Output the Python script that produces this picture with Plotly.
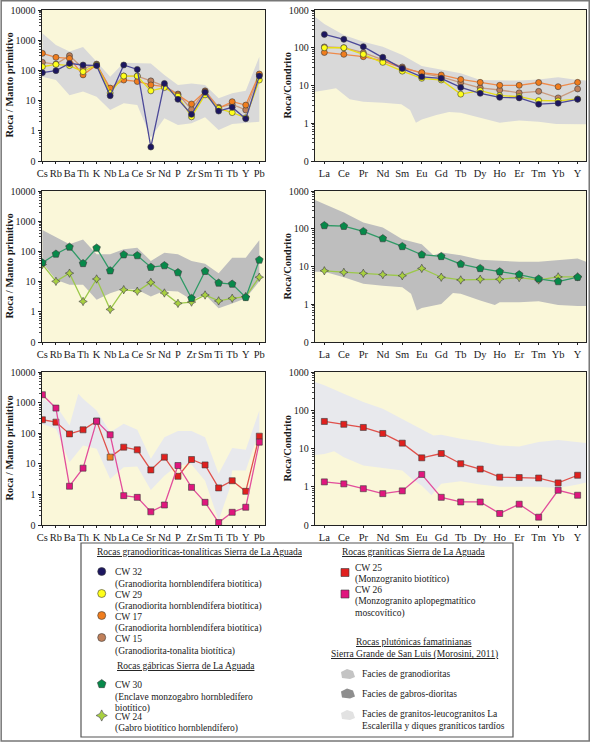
import plotly.graph_objects as go

W, H = 591, 744

# %% Elementos
pm_elems = ["Cs", "Rb", "Ba", "Th", "K", "Nb", "La", "Ce", "Sr", "Nd", "P",
            "Zr", "Sm", "Ti", "Tb", "Y", "Pb"]
ree_elems = ["La", "Ce", "Pr", "Nd", "Sm", "Eu", "Gd", "Tb", "Dy", "Ho", "Er",
             "Tm", "Yb", "Y"]

# %% Rocas granodioriticas-tonaliticas (manto primitivo / condrito)
cw32_pm = [84, 98, 170, 151, 144, 14.5, 151, 108, 0.29, 37, 11, 3.5, 18.9, 4.5, 6, 2.5, 65]
cw29_pm = [132, 158, 144, 91, 151, 18, 65, 65, 21, 27, 14, 2.9, 15.5, 5.5, 4, 2.7, 48]
cw17_pm = [367, 270, 250, 71, 151, 26, 48, 43, 33, 29, 15.5, 7.7, 20, 5.5, 9.2, 7.1, 76]
cw15_pm = [185, 162, 309, 115, 162, 23.6, 65, 65, 45, 30, 16.5, 5.1, 21, 6, 7.5, 4.9, 72]

cw32_ree = [226, 167, 107, 56, 28, 17, 15.5, 8.9, 6.2, 4.85, 4.7, 3.2, 3.4, 4.3]
cw29_ree = [100, 100, 67, 41, 24, 15.5, 14, 5.9, 7.3, 5.4, 5.1, 4.0, 3.9, 4.4]
cw17_ree = [75, 67, 58, 45, 29, 22, 19, 14.5, 12.1, 10.1, 10.1, 12, 9.3, 12.1]
cw15_ree = [105, 100, 74, 47, 31, 21, 17, 11.9, 8.7, 7.6, 6.4, 7.0, 4.7, 8.1]

# %% Rocas gabricas
cw30_pm = [42, 82, 140, 40, 130, 23, 78, 73, 30, 34, 20, 2.8, 22, 9, 8.3, 3.0, 52]
cw24_pm = [37, 10.2, 19, 2.2, 12.2, 1.2, 5.4, 4.8, 9.4, 4.2, 1.9, 2.1, 3.6, 2.3, 2.8, 3.2, 14]

cw30_ree = [122, 117, 85, 55, 34, 20.5, 18.5, 11.6, 8.9, 7.3, 6.1, 4.7, 4.0, 5.2]
cw24_ree = [7.7, 7.0, 6.6, 6.1, 5.7, 8.9, 5.2, 4.4, 4.6, 4.6, 5.1, 4.4, 5.3, 5.3]

# %% Rocas graniticas
cw25_pm = [275, 230, 95, 129, 248, 16.5, 35, 28.6, 6.3, 16.5, 3.9, 13.8, 9.2, 1.63, 2.8, 1.26, 80]
cw26_pm = [1810, 662, 1.85, 7.2, 248, 89, 0.91, 0.8, 0.27, 0.45, 8.8, 1.7, 0.55, 0.12, 0.26, 0.38, 51]

cw25_ree = [51, 43, 35.5, 24.7, 13.8, 5.7, 7.4, 4.0, 2.9, 1.78, 1.74, 1.69, 1.26, 2.0]
cw26_ree = [1.34, 1.19, 0.89, 0.66, 0.78, 2.1, 0.53, 0.4, 0.4, 0.2, 0.35, 0.16, 0.81, 0.6]

# %% Campos Morosini (2011): granodioritas
gd_pm_x = [0, 1, 2, 3, 4, 5, 6, 7, 8, 9, 10, 11, 12, 13, 14, 15, 16]
gd_pm_hi = [1690, 690, 420, 600, 195, 62, 180, 175, 170, 70, 33, 37, 33, 12, 17.4, 21, 285]
gd_pm_lo = [62, 48, 15, 20, 13.5, 4.9, 8.1, 7.2, 0.6, 2.6, 1.55, 1.77, 2.8, 1.06, 1.68, 1.86, 2.0]

gd_ree_hi_x = [-0.48, 0, 1, 2, 3, 4, 5, 6, 7, 8, 9, 10, 11, 12, 13, 13.43]
gd_ree_hi = [666, 425, 218, 145, 107, 64, 33, 26, 21, 14, 14, 13.5, 14.5, 16.5, 14, 13.5]
gd_ree_lo_x = [-0.48, 0.1, 0.6, 1.3, 2, 3, 3.95, 4.4, 4.7, 5, 5.75, 6.4, 7, 7.8, 9, 10, 11, 11.9, 13, 13.43]
gd_ree_lo = [6.85, 7.6, 8.4, 4.3, 3.7, 3.5, 3.2, 2.24, 1.03, 1.26, 1.65, 2.0, 1.9, 1.5, 1.03, 1.18, 1.1, 0.95, 0.94, 0.94]

# %% gabros-dioritas
gb_pm_x = [0, 1, 2, 3, 4, 5, 6, 7, 8, 9, 10, 11, 12, 13, 14, 15, 16]
gb_pm_hi = [507, 288, 173, 250, 80, 80, 117, 133, 48, 91, 80, 48, 39, 19, 62, 62, 235]
gb_pm_lo = [42, 11.6, 7.9, 7.9, 2.5, 4.15, 5.8, 5.4, 3.2, 5.0, 4.7, 2.5, 3.65, 1.3, 1.9, 2.8, 10.2]

gb_ree_hi_x = [-0.48, 0, 1, 2, 3, 4, 5, 5.6, 6, 7, 8, 9, 10, 11, 12, 13, 13.43]
gb_ree_hi = [578, 445, 268, 146, 108, 53, 39, 20, 23.6, 20, 15, 14.2, 13.3, 13.3, 15, 16.3, 13.3]
gb_ree_lo_x = [-0.48, 0, 1, 2, 3, 4, 4.45, 4.75, 5, 6, 6.6, 7, 8, 8.75, 9, 10, 11, 12, 13, 13.43]
gb_ree_lo = [7.3, 7.3, 5.2, 3.5, 3.1, 2.8, 1.9, 0.68, 0.79, 1.02, 2.0, 1.9, 1.26, 0.96, 1.13, 1.13, 1.2, 0.96, 0.9, 0.9]

# %% granitos-leucogranitos La Escalerilla y diques tardios
lg_pm_hi_x = [0, 1, 2, 2.65, 3, 4, 5, 6, 7, 8, 9, 10, 11, 12, 13, 14, 15, 16]
lg_pm_hi = [1340, 810, 179, 1950, 1340, 556, 108, 203, 129, 14.5, 74, 117, 117, 74, 4.7, 33, 29, 556]
lg_pm_lo_x = [0, 1, 2, 3, 4, 5, 6, 7, 8, 9, 10, 11, 12, 13, 13.8, 14, 15, 16]
lg_pm_lo = [200, 139, 11.3, 40, 31, 3.2, 7.7, 8.1, 1.4, 4.1, 9.2, 9.5, 2.8, 0.14, 1.5, 6.0, 6.0, 123]

lg_ree_hi_x = [-0.48, 0, 1, 2, 3, 4, 5, 5.6, 6, 7, 8, 9, 10, 11, 12, 13, 13.43]
lg_ree_hi = [547, 448, 270, 164, 110, 60, 33, 22, 23, 18, 15.2, 12, 11.3, 14.7, 16.7, 14.7, 14]
lg_ree_lo_x = [-0.48, 0, 0.5, 1, 2, 3, 4, 4.5, 5, 5.5, 6, 7, 8, 9, 10, 11, 12, 13, 13.43]
lg_ree_lo = [6.8, 7.2, 8.5, 5.9, 3.6, 3.1, 2.65, 1.6, 1.07, 0.6, 1.2, 1.4, 1.14, 1.0, 1.0, 1.0, 0.93, 1.14, 1.3]

# %% estilos
serif = "Liberation Serif"
bg_yellow = "#faf7d9"
c_gd, c_gb, c_lg = "#d9d9d9", "#bebebe", "#e8e9ed"

sty = {
    "CW32": dict(fill="#1c1660", line="#4b4898", symbol="circle", size=6),
    "CW29": dict(fill="#ffff1a", line="#e6dc14", symbol="circle", size=6),
    "CW17": dict(fill="#f07d1e", line="#ee8a4a", symbol="circle", size=6),
    "CW15": dict(fill="#c0805a", line="#c99a7e", symbol="circle", size=6),
    "CW30": dict(fill="#07894a", line="#2f9a66", symbol="pentagon", size=8),
    "CW24": dict(fill="#a8d040", line="#9cc84a", symbol="star-diamond", size=6),
    "CW25": dict(fill="#e0201e", line="#e0504a", symbol="square", size=6),
    "CW26": dict(fill="#e0167e", line="#e24d9c", symbol="square", size=6),
}

fig = go.Figure()

# dominios en pixeles (x0, x1) y (top, bottom)
cols = [(41.7, 265), (315, 586)]
rows = [(10, 161), (191, 342), (372, 525)]


def ax_id(i):
    return "" if i == 1 else str(i)


def add_band(n, xs_hi, hi, xs_lo, lo, color):
    fig.add_trace(go.Scatter(
        x=list(xs_hi) + list(xs_lo)[::-1], y=list(hi) + list(lo)[::-1],
        fill="toself", fillcolor=color, mode="lines", line=dict(width=0),
        hoverinfo="skip", showlegend=False,
        xaxis="x" + ax_id(n), yaxis="y" + ax_id(n)))


def add_series(n, name, vals, mcolors=None):
    s = sty[name]
    fig.add_trace(go.Scatter(
        x=list(range(len(vals))), y=vals, mode="lines+markers", name=name,
        line=dict(color=s["line"], width=1.3),
        marker=dict(symbol=s["symbol"], size=s["size"],
                    color=mcolors if mcolors else s["fill"],
                    line=dict(color="#3a3a3a", width=0.6)),
        showlegend=False, xaxis="x" + ax_id(n), yaxis="y" + ax_id(n)))


# panel 1 y 2
add_band(1, gd_pm_x, gd_pm_hi, gd_pm_x, gd_pm_lo, c_gd)
for nm, v in [("CW15", cw15_pm), ("CW17", cw17_pm), ("CW29", cw29_pm), ("CW32", cw32_pm)]:
    add_series(1, nm, v)
add_band(2, gd_ree_hi_x, gd_ree_hi, gd_ree_lo_x, gd_ree_lo, c_gd)
for nm, v in [("CW15", cw15_ree), ("CW17", cw17_ree), ("CW29", cw29_ree), ("CW32", cw32_ree)]:
    add_series(2, nm, v)

# panel 3 y 4
add_band(3, gb_pm_x, gb_pm_hi, gb_pm_x, gb_pm_lo, c_gb)
add_series(3, "CW24", cw24_pm)
add_series(3, "CW30", cw30_pm)
add_band(4, gb_ree_hi_x, gb_ree_hi, gb_ree_lo_x, gb_ree_lo, c_gb)
add_series(4, "CW24", cw24_ree)
add_series(4, "CW30", cw30_ree)

# panel 5 y 6
add_band(5, lg_pm_hi_x, lg_pm_hi, lg_pm_lo_x, lg_pm_lo, c_lg)
cw25_cols = [sty["CW25"]["fill"]] * len(cw25_pm)
cw25_cols[5] = "#f07d1e"
add_series(5, "CW25", cw25_pm, cw25_cols)
add_series(5, "CW26", cw26_pm)
add_band(6, lg_ree_hi_x, lg_ree_hi, lg_ree_lo_x, lg_ree_lo, c_lg)
add_series(6, "CW25", cw25_ree)
add_series(6, "CW26", cw26_ree)

layout = dict(
    width=W, height=H, margin=dict(l=0, r=0, t=0, b=0, autoexpand=False),
    paper_bgcolor="white", plot_bgcolor="rgba(0,0,0,0)",
    font=dict(family=serif, size=10, color="#1a1a1a"),
    showlegend=False,
)

shapes = []
annotations = []
n = 0
for r, (top, bot) in enumerate(rows):
    for c, (xl, xr) in enumerate(cols):
        n += 1
        elems = pm_elems if c == 0 else ree_elems
        xrange = [-0.05, 16.42] if c == 0 else [-0.48, 13.43]
        yrange = [-1, 4] if c == 0 else [-1, 3]
        layout["xaxis" + ax_id(n)] = dict(
            domain=[xl / W, xr / W], anchor="y" + ax_id(n), range=xrange,
            tickmode="array", tickvals=list(range(len(elems))), ticktext=elems,
            tickangle=0, automargin=False,
            ticks="outside", ticklen=2, tickcolor="#222",
            showline=True, mirror=True, linecolor="#222", linewidth=1.4,
            showgrid=False, zeroline=False, fixedrange=True,
            tickfont=dict(family=serif, size=10.5, color="#1a1a1a"))
        layout["yaxis" + ax_id(n)] = dict(
            domain=[1 - bot / H, 1 - top / H], anchor="x" + ax_id(n),
            type="log", range=yrange, dtick=1, tickformat="d",
            automargin=False,
            ticks="outside", ticklen=3, tickcolor="#222",
            minor=dict(ticks="outside", ticklen=2, tickcolor="#444", dtick="D1"),
            showline=True, mirror=True, linecolor="#222", linewidth=1.4,
            showgrid=False, zeroline=False, fixedrange=True,
            tickfont=dict(family=serif, size=10, color="#1a1a1a"))
        shapes.append(dict(type="rect", xref="x" + ax_id(n) + " domain",
                           yref="y" + ax_id(n) + " domain", x0=0, x1=1, y0=0, y1=1,
                           fillcolor=bg_yellow, line=dict(width=0), layer="below"))
        annotations.append(dict(
            text="<b>Roca / Manto primitivo</b>" if c == 0 else "<b>Roca/Condrito</b>",
            xref="paper", yref="paper", x=(9 if c == 0 else 287) / W,
            y=1 - (top + bot) / 2 / H, xanchor="center", yanchor="middle",
            textangle=-90, showarrow=False,
            font=dict(family=serif, size=10.5, color="#1a1a1a")))

# %% leyenda (eje en pixeles)
lx0, lx1, ly0, ly1 = 81, 513, 543, 737
layout["xaxis7"] = dict(domain=[lx0 / W, lx1 / W], range=[lx0, lx1], anchor="y7",
                        visible=False, fixedrange=True, automargin=False)
layout["yaxis7"] = dict(domain=[1 - ly1 / H, 1 - ly0 / H], range=[ly1, ly0], anchor="x7",
                        visible=False, fixedrange=True, automargin=False)
shapes.append(dict(type="rect", xref="x7 domain", yref="y7 domain", x0=0, x1=1, y0=0, y1=1,
                   fillcolor="white", line=dict(color="#555", width=1.2), layer="below"))

leg_items = [
    ("CW32", 101.7, 571.5, 8), ("CW29", 101.7, 593.5, 8), ("CW17", 101.7, 615.5, 8),
    ("CW15", 101.7, 637.5, 8), ("CW30", 101.7, 684, 9), ("CW24", 101.7, 715.5, 8),
    ("CW25", 345, 572.5, 8), ("CW26", 345, 594, 8),
]
for nm, px, py, sz in leg_items:
    s = sty[nm]
    fig.add_trace(go.Scatter(
        x=[px], y=[py], mode="markers", showlegend=False, hoverinfo="skip",
        marker=dict(symbol=s["symbol"], size=sz, color=s["fill"],
                    line=dict(color="#3a3a3a", width=0.6)),
        xaxis="x7", yaxis="y7"))

leg_text = [
    (95, 552, "<u>Rocas granodioríticas-tonalíticas Sierra de La Aguada</u>", "left"),
    (340, 552, "<u>Rocas graníticas Sierra de La Aguada</u>", "left"),
    (113, 572, "CW 32", "left"),
    (113, 584, "(Granodiorita hornblendífera biotítica)", "left"),
    (113, 595, "CW 29", "left"),
    (113, 606.5, "(Granodiorita hornblendífera biotítica)", "left"),
    (113, 617, "CW 17", "left"),
    (113, 628.5, "(Granodiorita hornblendífera biotítica)", "left"),
    (113, 639, "CW 15", "left"),
    (113, 651, "(Granodiorita-tonalita biotítica)", "left"),
    (115, 666, "<u>Rocas gábricas Sierra de La Aguada</u>", "left"),
    (113, 685, "CW 30", "left"),
    (113, 697.5, "(Enclave monzogabro hornbledífero", "left"),
    (113, 708, "biotítico)", "left"),
    (113, 717, "CW 24", "left"),
    (113, 728.5, "(Gabro biotítico hornblendífero)", "left"),
    (353, 568, "CW 25", "left"),
    (353, 579.5, "(Monzogranito biotítico)", "left"),
    (353, 590, "CW 26", "left"),
    (353, 601.5, "(Monzogranito aplopegmatítico", "left"),
    (353, 613, "moscovítico)", "left"),
    (414, 642, "<u>Rocas plutónicas famatinianas</u>", "center"),
    (414, 654, "<u>Sierra Grande de San Luis (Morosini, 2011)</u>", "center"),
    (360, 674, "Facies de granodioritas", "left"),
    (360, 693.5, "Facies de gabros-dioritas", "left"),
    (360, 714, "Facies de granitos-leucogranitos La", "left"),
    (360, 726, "Escalerilla y diques graníticos tardíos", "left"),
]
for tx, ty, txt, anc in leg_text:
    annotations.append(dict(text=txt, x=tx, y=ty, xref="x7", yref="y7",
                            xanchor=anc, yanchor="middle", showarrow=False,
                            font=dict(family=serif, size=9.5, color="#1a1a1a")))

# muestras de los campos
for cx, cy, col in [(348, 674, "#c4c4c4"), (348, 693.5, "#8e8e8e"), (348, 715, "#e2e2e2")]:
    path = (f"M {cx-7} {cy-2} L {cx-1} {cy-5} L {cx+5} {cy-3} L {cx+7} {cy+3} "
            f"L {cx+2} {cy+5} L {cx-6} {cy+4} Z")
    shapes.append(dict(type="path", xref="x7", yref="y7", path=path,
                       fillcolor=col, line=dict(width=0)))

# marco exterior
shapes.append(dict(type="rect", xref="paper", yref="paper", x0=0.002, x1=0.997,
                   y0=0.004, y1=0.999, line=dict(color="#777", width=1.5)))

layout["shapes"] = shapes
layout["annotations"] = annotations
fig.update_layout(**layout)

# sin margen del body para que la figura ocupe la ventana entera
fig.write_html("out.html", config={"displayModeBar": False},
               post_script="document.body.style.margin='0px';")
